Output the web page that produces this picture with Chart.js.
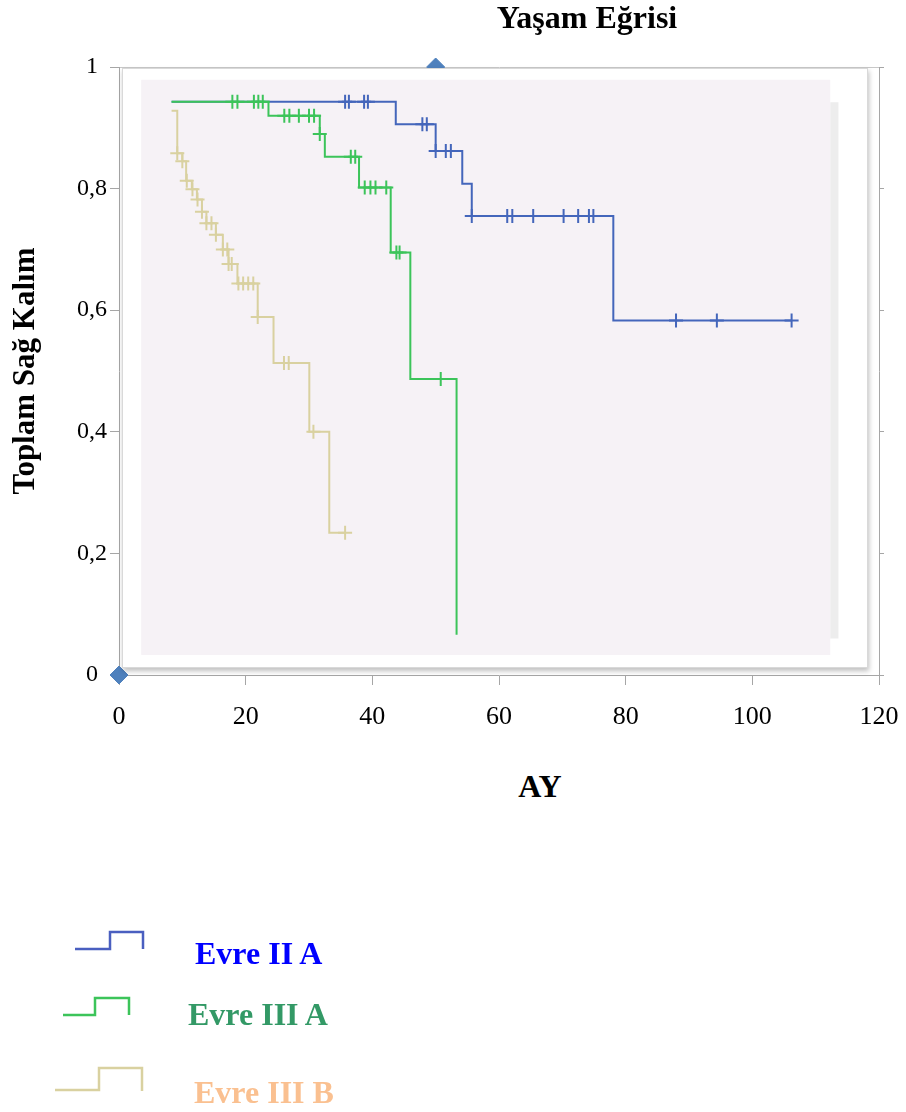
<!DOCTYPE html>
<html>
<head>
<meta charset="utf-8">
<script src="https://cdn.jsdelivr.net/npm/chart.js@4.4.1/dist/chart.umd.min.js"></script>
<style>
    body { margin: 0; background: #fff; width: 906px; height: 1112px; position: relative; overflow: hidden; font-family: "Liberation Serif", "Times New Roman", serif; }
    #wrap { position: absolute; left: 0; top: 0; width: 906px; height: 760px; }
    .lbl { position: absolute; font-weight: bold; line-height: 1; white-space: nowrap; font-size: 32px; }
    .icon { position: absolute; left: 0; top: 0; }
</style>
</head>
<body>
<div id="wrap"><canvas id="kmChart"></canvas></div>

<div class="lbl" style="left:587px; top:1px; transform:translateX(-50%);">Yaşam Eğrisi</div>
<div class="lbl" style="left:540px; top:770px; transform:translateX(-50%);">AY</div>

<svg class="icon" width="906" height="1112" style="pointer-events:none">
    <polyline points="75,949 110,949 110,932 143,932 143,949" fill="none" stroke="#4a5fc0" stroke-width="2.5"/>
    <polyline points="63,1015 95,1015 95,998 129,998 129,1015" fill="none" stroke="#3cc45a" stroke-width="2.5"/>
    <polyline points="55,1090 99,1090 99,1068 142,1068 142,1091" fill="none" stroke="#d9d1a0" stroke-width="2.5"/>
</svg>
<div class="lbl" style="left:195px; top:937px; color:#0000ff;">Evre II A</div>
<div class="lbl" style="left:188px; top:998px; color:#339966;">Evre III A</div>
<div class="lbl" style="left:194px; top:1076px; color:#fac090;">Evre III B</div>

<script>
// Evre II A
const blueTimes = [8.3, 43.7, 50.0, 54.2, 55.7, 78.05, 106.2];
const blueSurv = [0.943, 0.906, 0.862, 0.808, 0.755, 0.583, 0.583];
const blueCensor = [35.7, 36.3, 38.7, 39.3, 47.9, 48.6, 50.0, 51.6, 52.4, 55.7, 61.3, 62.1, 65.4, 70.2, 72.5, 74.2, 74.9, 87.95, 94.4, 106.2];

// Evre III A
const greenTimes = [8.3, 23.6, 31.7, 32.5, 37.9, 42.9, 46.0, 53.3];
const greenSurv = [0.943, 0.920, 0.890, 0.8525, 0.802, 0.695, 0.487, 0.066];
const greenCensor = [17.9, 18.7, 21.3, 22.0, 22.7, 26.1, 26.9, 28.4, 30.0, 30.8, 31.7, 36.6, 37.3, 38.8, 39.7, 40.5, 42.2, 43.8, 44.3, 50.8];

// Evre III B
const beigeTimes = [8.3, 9.2, 10.0, 10.6, 11.5, 12.3, 13.1, 13.8, 15.3, 16.4, 17.3, 18.7, 21.9, 24.4, 30.05, 33.2, 35.7];
const beigeSurv = [0.928, 0.858, 0.845, 0.813, 0.799, 0.782, 0.762, 0.743, 0.724, 0.700, 0.676, 0.644, 0.589, 0.513, 0.400, 0.234, 0.234];
const beigeCensor = [9.2, 10.0, 10.7, 11.6, 12.4, 13.1, 13.8, 14.6, 15.3, 16.4, 17.1, 17.3, 17.8, 18.85, 19.6, 20.4, 21.2, 21.9, 26.05, 26.8, 30.7, 35.7];

// stray diamond markers left over in the original sheet
const markerX = [0, 50];
const markerY = [0, 1];

const xTicks = [0, 20, 40, 60, 80, 100, 120];

const BLUE = "#4466bb";
const GREEN = "#3cc45a";
const BEIGE = "#d9d1a0";
const AXIS = "#a6a6a6";

// survival level at time t (level of the last step at or before t)
function stepAt(times, surv, t) {
    let v = surv[0];
    for (let i = 0; i < times.length; i++) {
        if (times[i] <= t) v = surv[i];
    }
    return v;
}

function curve(times, surv, color, order) {
    return {
        data: times.map((t, i) => ({ x: t, y: surv[i] })),
        showLine: true,
        stepped: "before",
        borderColor: color,
        borderWidth: 2,
        pointRadius: 0,
        order: order
    };
}

function censors(times, surv, marks, color, order) {
    return {
        data: marks.map(t => ({ x: t, y: stepAt(times, surv, t) })),
        showLine: false,
        pointStyle: "cross",
        pointRadius: 7,
        borderColor: color,
        borderWidth: 2,
        order: order
    };
}

// white frame + lavender plot area, drawn right after the diamonds so it hides half of the top one
const framePlugin = {
    id: "frame",
    afterDatasetDraw(chart, args) {
        if (args.index !== 0) return;
        const { ctx, chartArea: ca, scales: { x, y } } = chart;
        ctx.save();
        ctx.shadowColor = "rgba(0,0,0,0.25)";
        ctx.shadowBlur = 5;
        ctx.shadowOffsetX = 1;
        ctx.shadowOffsetY = 3;
        ctx.fillStyle = "#ffffff";
        ctx.fillRect(ca.left + 3, ca.top + 1, ca.width - 14, ca.height - 8);
        ctx.restore();
        ctx.save();
        ctx.strokeStyle = "#d9d9d9";
        ctx.lineWidth = 1;
        ctx.strokeRect(ca.left + 3.5, ca.top + 1.5, ca.width - 15, ca.height - 9);
        // right-hand shadow band of the plot area
        ctx.fillStyle = "#ededed";
        const sx = x.getPixelForValue(112.3);
        ctx.fillRect(sx, y.getPixelForValue(0.942), x.getPixelForValue(113.6) - sx, y.getPixelForValue(0.06) - y.getPixelForValue(0.942));
        ctx.fillStyle = "#f6f2f6";
        const lx = x.getPixelForValue(3.5), ty = y.getPixelForValue(0.979);
        ctx.fillRect(lx, ty, sx - lx, y.getPixelForValue(0.033) - ty);
        ctx.restore();
    }
};

const ctx = document.getElementById("kmChart").getContext("2d");
new Chart(ctx, {
    type: "scatter",
    data: {
        datasets: [
            {
                data: markerX.map((v, i) => ({ x: v, y: markerY[i] })),
                pointStyle: "rectRot",
                pointRadius: 9,
                backgroundColor: "#4f81bd",
                borderColor: "#4f81bd",
                clip: false,
                order: 9
            },
            curve(blueTimes, blueSurv, BLUE, 6),
            curve(greenTimes, greenSurv, GREEN, 4),
            curve(beigeTimes, beigeSurv, BEIGE, 5),
            censors(blueTimes, blueSurv, blueCensor, BLUE, 3),
            censors(greenTimes, greenSurv, greenCensor, GREEN, 1),
            censors(beigeTimes, beigeSurv, beigeCensor, BEIGE, 2)
        ]
    },
    options: {
        responsive: true,
        maintainAspectRatio: false,
        animation: false,
        events: [],
        layout: { padding: { left: 0, top: 67, right: 27, bottom: 0 } },
        plugins: { legend: { display: false }, tooltip: { enabled: false } },
        scales: {
            x: {
                type: "linear",
                position: "bottom",
                min: 0,
                max: 120,
                afterBuildTicks: s => { s.ticks = xTicks.map(v => ({ value: v })); },
                afterFit: s => { s.height = 85; s.paddingLeft = 0; s.paddingRight = 0; },
                border: { color: AXIS },
                grid: { drawOnChartArea: false, tickLength: 10, color: AXIS },
                ticks: { color: "#000", padding: 17, font: { family: "Liberation Serif", size: 26 } }
            },
            x2: {
                type: "linear",
                position: "top",
                min: 0,
                max: 120,
                afterFit: s => { s.height = 0; },
                border: { color: "#c8c8c8" },
                grid: { drawOnChartArea: false, drawTicks: false },
                ticks: { display: false }
            },
            y: {
                min: 0,
                max: 1,
                afterFit: s => { s.width = 119; },
                border: { color: AXIS },
                grid: { drawOnChartArea: false, tickLength: 9, color: AXIS },
                ticks: {
                    stepSize: 0.2,
                    color: "#000",
                    padding: 3,
                    crossAlign: "center",
                    font: { family: "Liberation Serif", size: 24 },
                    callback: v => (Math.round(v * 10) / 10).toString().replace(".", ",")
                },
                title: {
                    display: true,
                    text: "Toplam Sağ Kalım",
                    color: "#000",
                    padding: { top: 7, bottom: 0 },
                    font: { family: "Liberation Serif", size: 31, weight: "bold" }
                }
            },
            y2: {
                position: "right",
                min: 0,
                max: 1,
                afterFit: s => { s.width = 0; },
                border: { color: AXIS },
                grid: { drawOnChartArea: false, tickLength: 5, color: AXIS },
                ticks: { display: false, stepSize: 0.2 }
            }
        }
    },
    plugins: [framePlugin]
});
</script>
</body>
</html>
